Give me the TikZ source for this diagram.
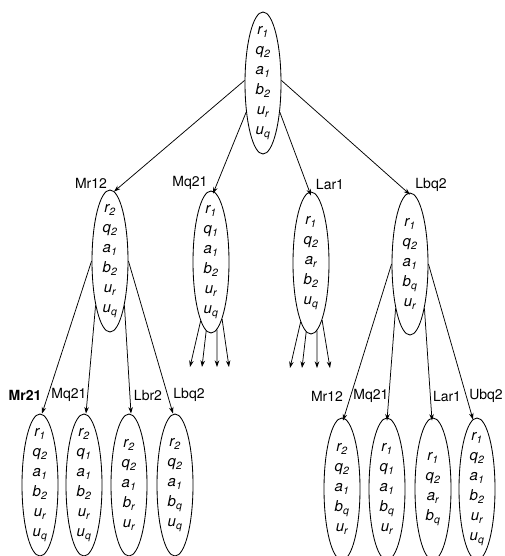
\documentclass[tikz,border=0pt]{standalone}
\usepackage{fontspec}
\setmainfont{TeX Gyre Heros}
\usetikzlibrary{shapes.geometric,arrows.meta}
\newcommand\sv[2]{#1\textsubscript{#2}}
\tikzset{
  st/.style={ellipse, draw, line width=0.85pt, minimum width=36pt, minimum height=142pt, inner sep=0pt},
  txt/.style={inner sep=0pt, align=center, font=\fontsize{15}{20}\selectfont\itshape},
  lab/.style={inner sep=0pt, font=\fontsize{14}{16}\selectfont},
  arr/.style={line width=0.75pt, -{Stealth[length=6.5pt,width=4.5pt]}},
}
\begin{document}
\begin{tikzpicture}[x=1pt,y=-1pt]
\useasboundingbox (0,0) rectangle (505,556);
% level 1
\node[st] (root) at (263,83) {};
\node[txt] (root-t) at (root.center) {\sv r1\\\sv q2\\\sv a1\\\sv b2\\\sv ur\\\sv uq};
% level 2
\node[st] (mr12) at (110,261) {};
\node[txt] (mr12-t) at (mr12.center) {\sv r2\\\sv q2\\\sv a1\\\sv b2\\\sv ur\\\sv uq};
\node[st] (mq21) at (211,262) {};
\node[txt] (mq21-t) at (mq21.center) {\sv r1\\\sv q1\\\sv a1\\\sv b2\\\sv ur\\\sv uq};
\node[st] (lar1) at (311,263) {};
\node[txt] (lar1-t) at (lar1.center) {\sv r1\\\sv q2\\\sv ar\\\sv b2\\\sv uq};
\node[st] (lbq2) at (410,264) {};
\node[txt] (lbq2-t) at (lbq2.center) {\sv r1\\\sv q2\\\sv a1\\\sv bq\\\sv ur};
\node[lab] (l-mr12) at (91,183) {Mr12};
\node[lab] (l-mq21) at (190,183) {Mq21};
\node[lab] (l-lar1) at (330,185) {Lar1};
\node[lab] (l-lbq2) at (431,185) {Lbq2};
% level 3 left
\node[st] (a1) at (40,485) {};
\node[txt] (a1-t) at (a1.center) {\sv r1\\\sv q2\\\sv a1\\\sv b2\\\sv ur\\\sv uq};
\node[st] (a2) at (84,485) {};
\node[txt] (a2-t) at (a2.center) {\sv r2\\\sv q1\\\sv a1\\\sv b2\\\sv ur\\\sv uq};
\node[st] (a3) at (129,485) {};
\node[txt] (a3-t) at (a3.center) {\sv r2\\\sv q2\\\sv a1\\\sv br\\\sv ur};
\node[st] (a4) at (175,485) {};
\node[txt] (a4-t) at (a4.center) {\sv r2\\\sv q2\\\sv a1\\\sv bq\\\sv uq};
\node[lab,font=\fontsize{14}{16}\selectfont\bfseries] (l-a1) at (25,395) {Mr21};
\node[lab] (l-a2) at (69,395) {Mq21};
\node[lab] (l-a3) at (148,395) {Lbr2};
\node[lab] (l-a4) at (189,395) {Lbq2};
% level 3 right
\node[st] (b1) at (342,489) {};
\node[txt] (b1-t) at (b1.center) {\sv r2\\\sv q2\\\sv a1\\\sv bq\\\sv ur};
\node[st] (b2) at (387,489) {};
\node[txt] (b2-t) at (b2.center) {\sv r1\\\sv q1\\\sv a1\\\sv bq\\\sv ur};
\node[st] (b3) at (433,489) {};
\node[txt] (b3-t) at (b3.center) {\sv r1\\\sv q2\\\sv ar\\\sv bq};
\node[st] (b4) at (477,489) {};
\node[txt] (b4-t) at (b4.center) {\sv r1\\\sv q2\\\sv a1\\\sv b2\\\sv ur\\\sv uq};
\node[lab] (l-b1) at (327,396) {Mr12};
\node[lab] (l-b2) at (371,396) {Mq21};
\node[lab] (l-b3) at (447,396) {Lar1};
\node[lab] (l-b4) at (486,396) {Ubq2};
% edges from root
\draw[arr] (root.172) -- ([xshift=4pt,yshift=-2pt]mr12.north);
\draw[arr] (root.240) -- ([xshift=2pt,yshift=-3pt]mq21.north);
\draw[arr] (root.300) -- ([yshift=-4pt]lar1.north);
\draw[arr] (root.8) -- ([yshift=-2pt]lbq2.north);
% edges from mr12
\draw[arr] (mr12.180) -- ([xshift=2pt]a1.north);
\draw[arr] (mr12.252) -- ([xshift=2pt]a2.north);
\draw[arr] (mr12.288) -- ([xshift=2pt]a3.north);
\draw[arr] (mr12.0) -- ([xshift=-2pt]a4.north);
% edges from lbq2
\draw[arr] (lbq2.180) -- ([xshift=1pt,yshift=-3pt]b1.north);
\draw[arr] (lbq2.252) -- ([yshift=-3pt]b2.north);
\draw[arr] (lbq2.288) -- ([xshift=-1pt,yshift=-3pt]b3.north);
\draw[arr] (lbq2.0) -- ([xshift=-4pt,yshift=-2pt]b4.north);
% open branches
\coordinate (mq-e1) at (190,367);
\coordinate (mq-e2) at (202,367);
\coordinate (mq-e3) at (217,367);
\coordinate (mq-e4) at (229,367);
\draw[arr] (mq21.260) -- (mq-e1);
\draw[arr] (mq21.266) -- (mq-e2);
\draw[arr] (mq21.275) -- (mq-e3);
\draw[arr] (mq21.281) -- (mq-e4);
\coordinate (la-e1) at (290,368);
\coordinate (la-e2) at (302,368);
\coordinate (la-e3) at (317,368);
\coordinate (la-e4) at (330,368);
\draw[arr] (lar1.260) -- (la-e1);
\draw[arr] (lar1.266) -- (la-e2);
\draw[arr] (lar1.275) -- (la-e3);
\draw[arr] (lar1.281) -- (la-e4);
\end{tikzpicture}
\end{document}
